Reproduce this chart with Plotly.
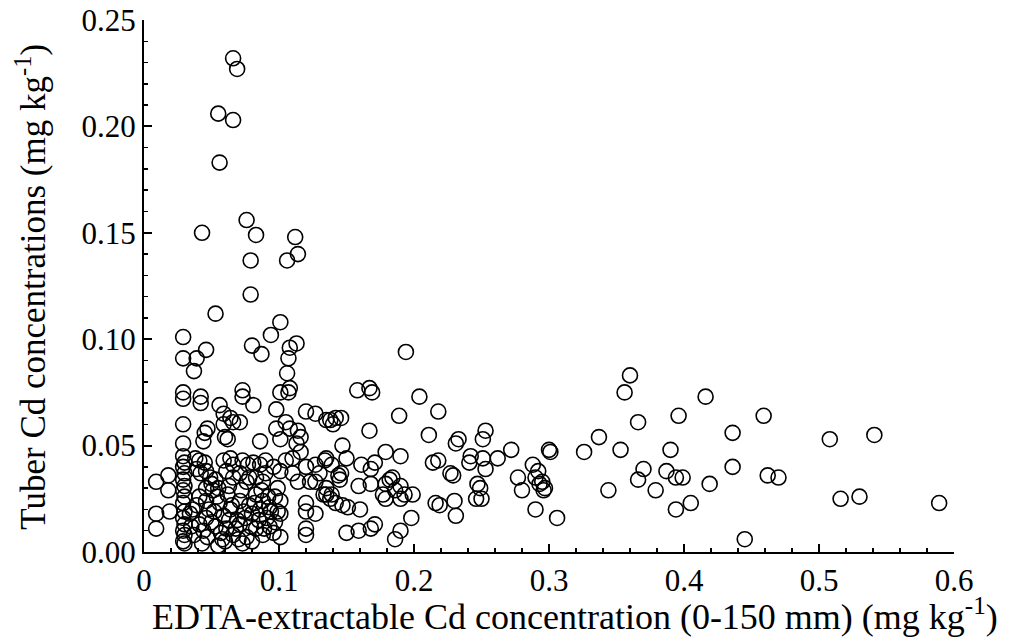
import plotly.graph_objects as go

# EDTA-extractable Cd (mg/kg) and tuber Cd (mg/kg)
edta_cd = [
    0.066, 0.069, 0.055, 0.066, 0.056,
    0.043, 0.076, 0.083, 0.112, 0.079, 0.106, 0.114, 0.079, 0.053, 0.101, 0.094, 0.029, 0.046, 0.080, 0.087,
    0.108, 0.113, 0.029, 0.039, 0.107, 0.037, 0.106,
    0.029, 0.029, 0.042, 0.042, 0.056, 0.073, 0.073, 0.081, 0.101, 0.107, 0.108, 0.098, 0.120, 0.127, 0.135,
    0.029, 0.047, 0.045, 0.059, 0.064, 0.066, 0.071, 0.059, 0.060, 0.062, 0.044, 0.086, 0.098, 0.101, 0.105,
    0.108, 0.114, 0.116, 0.113, 0.029,
    0.029, 0.030, 0.029, 0.030, 0.029, 0.030, 0.029, 0.030, 0.029, 0.030, 0.029, 0.030, 0.029, 0.030, 0.029, 0.030,
    0.009, 0.009, 0.009, 0.018, 0.018, 0.019,
    0.038, 0.041, 0.045, 0.039, 0.042, 0.046, 0.049, 0.050, 0.051, 0.055,
    0.059, 0.064, 0.066, 0.073, 0.077, 0.081, 0.086, 0.090, 0.096, 0.101,
    0.061, 0.066, 0.071, 0.076, 0.078, 0.083, 0.088, 0.090,
    0.105, 0.110, 0.116, 0.120, 0.127, 0.134, 0.139,
    0.110, 0.114, 0.123, 0.127, 0.135, 0.138,
    0.041, 0.062, 0.083, 0.097,
    0.046, 0.056, 0.071, 0.078, 0.088, 0.093, 0.101,
    0.036, 0.052, 0.064, 0.074, 0.086, 0.099,
    0.034, 0.046, 0.059, 0.069, 0.080, 0.091, 0.101,
    0.041, 0.053, 0.061, 0.071, 0.083, 0.093, 0.096,
    0.037, 0.047, 0.058, 0.066, 0.076, 0.088, 0.101,
    0.043, 0.055, 0.060, 0.073, 0.080,
    0.035, 0.039, 0.044, 0.048, 0.050, 0.054, 0.057, 0.063, 0.065, 0.068, 0.070, 0.072, 0.075,
    0.079, 0.082, 0.085, 0.087, 0.089, 0.092, 0.094, 0.097, 0.099, 0.063, 0.053, 0.046,
    0.120, 0.120, 0.120, 0.120, 0.127, 0.130, 0.135,
    0.194, 0.158, 0.167, 0.169, 0.204, 0.218, 0.189, 0.142, 0.146, 0.140, 0.138, 0.167, 0.211, 0.233, 0.231,
    0.253, 0.251, 0.147, 0.179, 0.190, 0.135, 0.150, 0.161, 0.171, 0.168, 0.272, 0.262, 0.251, 0.242, 0.241,
    0.214, 0.218, 0.253, 0.229, 0.227, 0.144, 0.146, 0.145, 0.184, 0.182, 0.159, 0.168, 0.179, 0.177, 0.179,
    0.190, 0.193, 0.190, 0.199, 0.186, 0.133, 0.139, 0.142, 0.147, 0.151, 0.160, 0.247, 0.249, 0.250, 0.246,
    0.288, 0.292, 0.290, 0.277, 0.280, 0.290, 0.216, 0.219, 0.230, 0.231, 0.198, 0.150, 0.159, 0.168, 0.171,
    0.190, 0.186,
    0.360, 0.356, 0.416, 0.366, 0.396, 0.459, 0.337, 0.326, 0.353, 0.390, 0.300, 0.301, 0.436, 0.436, 0.370,
    0.366, 0.387, 0.394, 0.399, 0.419, 0.379, 0.344, 0.306, 0.405, 0.394, 0.445, 0.508, 0.541, 0.462, 0.470,
    0.516, 0.530, 0.589, 0.295, 0.297, 0.293, 0.296,
]

tuber_cd = [
    0.232, 0.227, 0.206, 0.203, 0.183,
    0.150, 0.156, 0.149, 0.148, 0.137, 0.137, 0.140, 0.121, 0.112, 0.108, 0.102, 0.101, 0.095, 0.097, 0.093,
    0.096, 0.098, 0.091, 0.091, 0.091, 0.085, 0.084,
    0.075, 0.072, 0.073, 0.070, 0.069, 0.076, 0.073, 0.069, 0.075, 0.075, 0.077, 0.067, 0.066, 0.065, 0.062,
    0.060, 0.058, 0.056, 0.065, 0.063, 0.061, 0.061, 0.060, 0.054, 0.053, 0.052, 0.052, 0.058, 0.053, 0.061,
    0.058, 0.057, 0.054, 0.051, 0.051,
    0.045, 0.042, 0.040, 0.037, 0.034, 0.031, 0.029, 0.026, 0.023, 0.019, 0.016, 0.013, 0.010, 0.008, 0.005, 0.004,
    0.033, 0.018, 0.011, 0.036, 0.029, 0.019,
    0.044, 0.043, 0.042, 0.039, 0.037, 0.038, 0.035, 0.032, 0.029, 0.030,
    0.043, 0.044, 0.041, 0.043, 0.041, 0.042, 0.041, 0.043, 0.040, 0.038,
    0.038, 0.035, 0.037, 0.033, 0.035, 0.035, 0.033, 0.037,
    0.043, 0.044, 0.047, 0.040, 0.041, 0.043, 0.041,
    0.037, 0.033, 0.033, 0.033, 0.027, 0.025,
    0.026, 0.027, 0.027, 0.026,
    0.024, 0.023, 0.024, 0.022, 0.024, 0.021, 0.024,
    0.020, 0.019, 0.020, 0.019, 0.020, 0.019,
    0.018, 0.016, 0.017, 0.015, 0.018, 0.016, 0.018,
    0.013, 0.012, 0.011, 0.013, 0.011, 0.012, 0.009,
    0.008, 0.007, 0.006, 0.008, 0.007, 0.008, 0.007,
    0.004, 0.003, 0.005, 0.004, 0.005,
    0.012, 0.022, 0.010, 0.020, 0.014, 0.026, 0.009, 0.015, 0.022, 0.011, 0.006, 0.029, 0.016,
    0.012, 0.023, 0.015, 0.029, 0.011, 0.026, 0.019, 0.014, 0.030, 0.031, 0.034, 0.030,
    0.023, 0.019, 0.011, 0.008, 0.018, 0.037, 0.030,
    0.094, 0.076, 0.077, 0.075, 0.073, 0.066, 0.064, 0.063, 0.063, 0.060, 0.062, 0.057, 0.055, 0.053, 0.051,
    0.057, 0.053, 0.050, 0.047, 0.045, 0.044, 0.044, 0.041, 0.042, 0.039, 0.048, 0.044, 0.044, 0.045, 0.042,
    0.042, 0.043, 0.039, 0.036, 0.037, 0.036, 0.037, 0.034, 0.035, 0.034, 0.031, 0.032, 0.032, 0.027, 0.025,
    0.031, 0.027, 0.025, 0.027, 0.029, 0.027, 0.027, 0.023, 0.022, 0.021, 0.020, 0.032, 0.030, 0.025, 0.025,
    0.041, 0.038, 0.035, 0.035, 0.029, 0.020, 0.023, 0.022, 0.024, 0.017, 0.016, 0.009, 0.010, 0.011, 0.013,
    0.010, 0.006,
    0.083, 0.075, 0.073, 0.061, 0.064, 0.064, 0.054, 0.047, 0.048, 0.048, 0.048, 0.047, 0.056, 0.040, 0.039,
    0.034, 0.038, 0.035, 0.035, 0.032, 0.029, 0.029, 0.016, 0.023, 0.020, 0.006, 0.053, 0.055, 0.036, 0.035,
    0.025, 0.026, 0.023, 0.033, 0.030, 0.032, 0.029,
]

x_tick_vals = [0, 0.1, 0.2, 0.3, 0.4, 0.5, 0.6]
x_tick_text = ["0", "0.1", "0.2", "0.3", "0.4", "0.5", "0.6"]
y_tick_vals = [0, 0.05, 0.10, 0.15, 0.20, 0.25]
y_tick_text = ["0.00", "0.05", "0.10", "0.15", "0.20", "0.25"]

x_title = "EDTA-extractable Cd concentration (0-150 mm) (mg kg<sup>-1</sup>)"
y_title = "Tuber Cd concentrations (mg kg<sup>-1</sup>)"

FONT = "Liberation Serif, Times New Roman, serif"

fig = go.Figure()
fig.add_trace(go.Scatter(
    x=edta_cd, y=tuber_cd, mode="markers",
    marker=dict(symbol="circle-open", size=15, color="black", line=dict(width=1.6)),
    cliponaxis=False, showlegend=False, hoverinfo="skip",
))

axis_common = dict(
    showline=True, linecolor="black", linewidth=2, mirror=False,
    showgrid=False, zeroline=False, automargin=False,
    ticks="inside", ticklen=8, tickwidth=2, tickcolor="black",
    ticklabeloverflow="allow",
    tickfont=dict(family=FONT, size=31, color="black"),
)

fig.update_xaxes(
    range=[0, 0.6], tickvals=x_tick_vals, ticktext=x_tick_text,
    minor=dict(ticks="inside", ticklen=4, tickwidth=1.5, tickcolor="black", dtick=0.02, tick0=0),
    **axis_common,
)
fig.update_yaxes(
    range=[0, 0.25], tickvals=y_tick_vals, ticktext=y_tick_text,
    minor=dict(ticks="inside", ticklen=4, tickwidth=1.5, tickcolor="black", dtick=0.01, tick0=0),
    **axis_common,
)

fig.add_annotation(
    text=x_title, xref="paper", yref="paper", x=0.532, y=-0.117,
    xanchor="center", yanchor="middle", showarrow=False,
    font=dict(family=FONT, size=36, color="black"),
)
fig.add_annotation(
    text=y_title, xref="paper", yref="paper", x=-0.140, y=0.498,
    xanchor="center", yanchor="middle", showarrow=False, textangle=-90,
    font=dict(family=FONT, size=35, color="black"),
)

fig.update_layout(
    width=1019, height=639,
    margin=dict(l=144, r=65, t=20, b=87),
    plot_bgcolor="white", paper_bgcolor="white",
)

fig.write_html(
    "out.html",
    config={"displayModeBar": False, "staticPlot": True},
    post_script="document.body.style.margin='0px';document.body.style.overflow='hidden';",
)
